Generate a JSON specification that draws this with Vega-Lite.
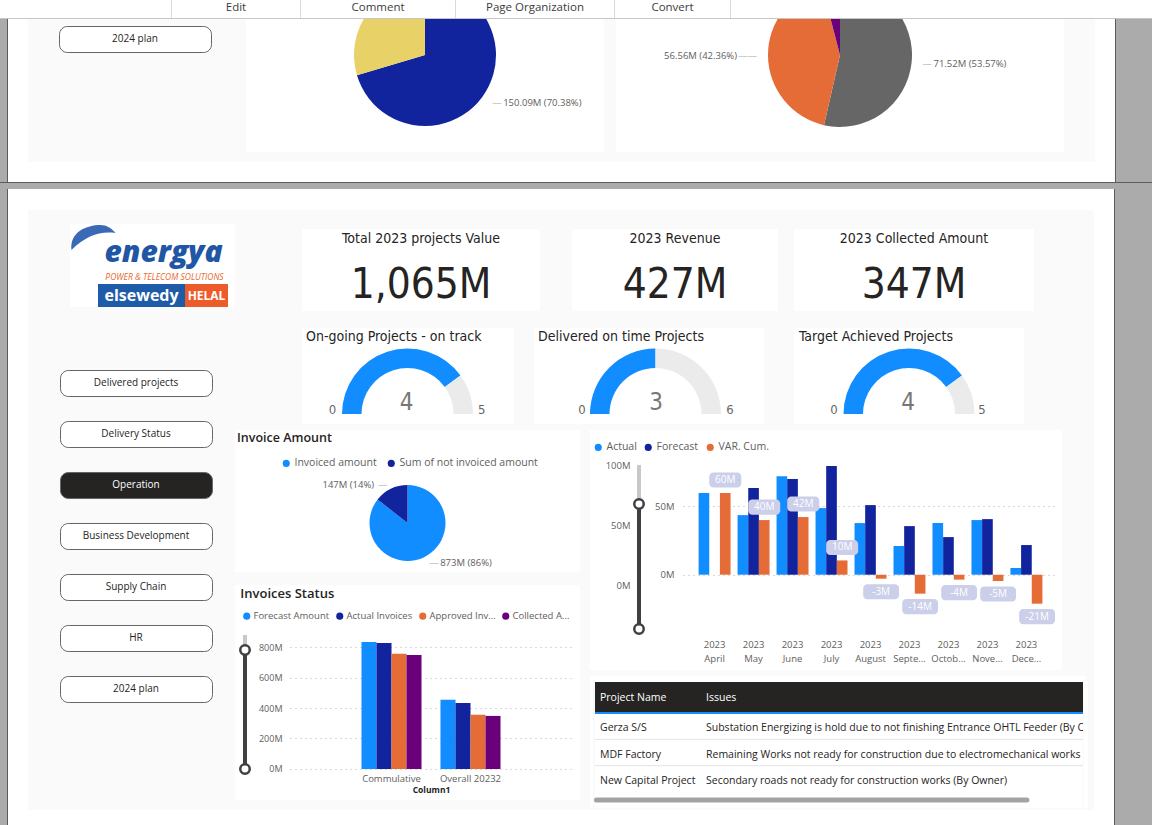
{
"$schema":"https://vega.github.io/schema/vega-lite/v6.json",
"background":"#fafafa",
"padding":0,
"spacing":0,
"resolve":{"scale":{"color":"independent","theta":"independent","x":"independent","y":"independent","xOffset":"independent"}},
"config":{"view":{"stroke":null},"concat":{"spacing":0},"font":"Open Sans","text":{"font":"Open Sans","color":"#252423"},"axis":{"labelFont":"Open Sans","titleFont":"Open Sans"},"legend":{"labelFont":"Open Sans"}},
"datasets":{"monthly":[
{"month":"April","series":"Actual","amount":59.5},
{"month":"April","series":"VAR. Cum.","amount":59.5,"label":"60M"},
{"month":"May","series":"Actual","amount":43.4},
{"month":"May","series":"Forecast","amount":63.1},
{"month":"May","series":"VAR. Cum.","amount":39.8,"label":"40M"},
{"month":"June","series":"Actual","amount":71.8},
{"month":"June","series":"Forecast","amount":69.7},
{"month":"June","series":"VAR. Cum.","amount":42.0,"label":"42M"},
{"month":"July","series":"Actual","amount":48.5},
{"month":"July","series":"Forecast","amount":79.1},
{"month":"July","series":"VAR. Cum.","amount":10.4,"label":"10M"},
{"month":"August","series":"Actual","amount":37.6},
{"month":"August","series":"Forecast","amount":50.7},
{"month":"August","series":"VAR. Cum.","amount":-2.9,"label":"-3M"},
{"month":"September","series":"Actual","amount":20.9},
{"month":"September","series":"Forecast","amount":35.4},
{"month":"September","series":"VAR. Cum.","amount":-13.8,"label":"-14M"},
{"month":"October","series":"Actual","amount":37.6},
{"month":"October","series":"Forecast","amount":27.4},
{"month":"October","series":"VAR. Cum.","amount":-3.6,"label":"-4M"},
{"month":"November","series":"Actual","amount":39.8},
{"month":"November","series":"Forecast","amount":40.5},
{"month":"November","series":"VAR. Cum.","amount":-4.6,"label":"-5M"},
{"month":"December","series":"Actual","amount":4.9},
{"month":"December","series":"Forecast","amount":21.6},
{"month":"December","series":"VAR. Cum.","amount":-21.1,"label":"-21M"}
]},
"vconcat":[
{"spacing":0,"resolve":{"scale":{"color":"independent","theta":"independent","x":"independent","y":"independent","xOffset":"independent"}},"vconcat":[
 {"spacing":0,"bounds":"flush","resolve":{"scale":{"color":"independent","theta":"independent","x":"independent","y":"independent","xOffset":"independent"}},"hconcat":[
  {"width":171,"height":18,"data":{"values":[]},"mark":{"type":"text"},"view":{"fill":"#ffffff"}},
  {"width":1,"height":18,"data":{"values":[]},"mark":{"type":"text"},"view":{"fill":"#dadada"}},
  {"width":128,"height":18,"data":{"values":[{"menu":"Edit"}]},"mark":{"type":"text","fontSize":11.5,"color":"#3c3c3c","dy":-1},"encoding":{"text":{"field":"menu"}},"view":{"fill":"#ffffff"}},
  {"width":1,"height":18,"data":{"values":[]},"mark":{"type":"text"},"view":{"fill":"#dadada"}},
  {"width":154,"height":18,"data":{"values":[{"menu":"Comment"}]},"mark":{"type":"text","fontSize":11.5,"color":"#3c3c3c","dy":-1},"encoding":{"text":{"field":"menu"}},"view":{"fill":"#ffffff"}},
  {"width":1,"height":18,"data":{"values":[]},"mark":{"type":"text"},"view":{"fill":"#dadada"}},
  {"width":158,"height":18,"data":{"values":[{"menu":"Page Organization"}]},"mark":{"type":"text","fontSize":11.5,"color":"#3c3c3c","dy":-1},"encoding":{"text":{"field":"menu"}},"view":{"fill":"#ffffff"}},
  {"width":1,"height":18,"data":{"values":[]},"mark":{"type":"text"},"view":{"fill":"#dadada"}},
  {"width":115,"height":18,"data":{"values":[{"menu":"Convert"}]},"mark":{"type":"text","fontSize":11.5,"color":"#3c3c3c","dy":-1},"encoding":{"text":{"field":"menu"}},"view":{"fill":"#ffffff"}},
  {"width":1,"height":18,"data":{"values":[]},"mark":{"type":"text"},"view":{"fill":"#dadada"}},
  {"width":421,"height":18,"data":{"values":[]},"mark":{"type":"text"},"view":{"fill":"#ffffff"}}
 ]},
 {"width":1152,"height":1,"data":{"values":[]},"mark":{"type":"text"},"view":{"fill":"#c6c6c6"}}
]},
{"spacing":0,"resolve":{"scale":{"color":"independent","theta":"independent","x":"independent","y":"independent","xOffset":"independent"}},"hconcat":[
 {"width":7,"height":163,"data":{"values":[]},"mark":{"type":"text"},"view":{"fill":"#ababab"}},
 {"width":1,"height":163,"data":{"values":[]},"mark":{"type":"text"},"view":{"fill":"#5c5c5c"}},
 {"spacing":0,"resolve":{"scale":{"color":"independent","theta":"independent","x":"independent","y":"independent","xOffset":"independent"}},"vconcat":[
  {"spacing":0,"resolve":{"scale":{"color":"independent","theta":"independent","x":"independent","y":"independent","xOffset":"independent"}},"hconcat":[
   {"width":20,"height":143,"data":{"values":[]},"mark":{"type":"text"},"view":{"fill":"#ffffff"}},
   {"spacing":0,"resolve":{"scale":{"color":"independent","theta":"independent","x":"independent","y":"independent","xOffset":"independent"}},"hconcat":[
    {"spacing":0,"vconcat":[
     {"width":183,"height":6,"data":{"values":[]},"mark":{"type":"text"}},
     {"spacing":0,"bounds":"flush","hconcat":[
      {"width":31,"height":26,"data":{"values":[]},"mark":{"type":"text"}},
      {"width":152,"height":26,"data":{"values":[{"label":"2024 plan"}]},"mark":{"type":"text","fontSize":10,"color":"#252423"},"encoding":{"text":{"field":"label"}},"view":{"fill":"#ffffff","stroke":"#666666","strokeWidth":1,"cornerRadius":8}}
     ]}
    ]},
    {"width":34,"height":143,"data":{"values":[]},"mark":{"type":"text"}},
    {"width":358,"height":133,"view":{"fill":"#ffffff"},
     "data":{"values":[{"category":"Achieved","amount":150.09,"label":"150.09M (70.38%)"},{"category":"Remaining","amount":63.17,"label":"63.17M (29.62%)"}]},
     "encoding":{"theta":{"field":"amount","type":"quantitative","stack":true},"order":{"field":"category","type":"ordinal","sort":"ascending"}},
     "layer":[
      {"mark":{"type":"arc","outerRadius":71,"yOffset":-30.5,"clip":true},"encoding":{"color":{"field":"category","type":"nominal","scale":{"domain":["Achieved","Remaining"],"range":["#12239E","#E8D166"]},"legend":null}}},
      {"mark":{"type":"text","radius":80,"dx":3,"dy":-30.5,"align":"left","fontSize":9.5,"color":"#a8a8a8","clip":true},"encoding":{"detail":{"field":"category","type":"nominal"},"text":{"condition":{"test":"datum.category === 'Achieved'","value":"—"},"value":""}}},
      {"mark":{"type":"text","radius":80,"dx":14,"dy":-30.5,"align":"left","fontSize":9.5,"color":"#605E5C","clip":true},"encoding":{"detail":{"field":"category","type":"nominal"},"text":{"condition":{"test":"datum.category === 'Achieved'","field":"label"},"value":""}}}
     ]},
    {"width":12,"height":143,"data":{"values":[]},"mark":{"type":"text"}},
    {"width":448,"height":133,"view":{"fill":"#ffffff"},
     "data":{"values":[{"category":"Collected","amount":71.52,"label":"71.52M (53.57%)"},{"category":"Outstanding","amount":56.56,"label":"56.56M (42.36%)"},{"category":"Pending","amount":5.43,"label":"5.43M (4.07%)"}]},
     "encoding":{"theta":{"field":"amount","type":"quantitative","stack":true},"order":{"field":"category","type":"ordinal","sort":"ascending"}},
     "layer":[
      {"mark":{"type":"arc","outerRadius":72,"yOffset":-30.5,"clip":true},"encoding":{"color":{"field":"category","type":"nominal","scale":{"domain":["Collected","Outstanding","Pending"],"range":["#666666","#E66C37","#6B007B"]},"legend":null}}},
      {"mark":{"type":"text","radius":80,"dx":3,"dy":-30.5,"align":"left","fontSize":9.5,"color":"#a8a8a8","clip":true},"encoding":{"detail":{"field":"category","type":"nominal"},"text":{"condition":{"test":"datum.category === 'Collected'","value":"—"},"value":""}}},
      {"mark":{"type":"text","radius":80,"dx":-3,"dy":-30.5,"align":"right","fontSize":9.5,"color":"#a8a8a8","clip":true},"encoding":{"detail":{"field":"category","type":"nominal"},"text":{"condition":{"test":"datum.category === 'Outstanding'","value":"——"},"value":""}}},
      {"mark":{"type":"text","radius":80,"dx":14,"dy":-30.5,"align":"left","fontSize":9.5,"color":"#605E5C","clip":true},"encoding":{"detail":{"field":"category","type":"nominal"},"text":{"condition":{"test":"datum.category === 'Collected'","field":"label"},"value":""}}},
      {"mark":{"type":"text","radius":80,"dx":-23,"dy":-30.5,"align":"right","fontSize":9.5,"color":"#605E5C","clip":true},"encoding":{"detail":{"field":"category","type":"nominal"},"text":{"condition":{"test":"datum.category === 'Outstanding'","field":"label"},"value":""}}}
     ]},
    {"width":31,"height":143,"data":{"values":[]},"mark":{"type":"text"}}
   ]},
   {"width":20,"height":143,"data":{"values":[]},"mark":{"type":"text"},"view":{"fill":"#ffffff"}}
  ]},
  {"width":1106,"height":20,"data":{"values":[]},"mark":{"type":"text"},"view":{"fill":"#ffffff"}}
 ]},
 {"width":1,"height":163,"data":{"values":[]},"mark":{"type":"text"},"view":{"fill":"#5c5c5c"}},
 {"width":37,"height":163,"data":{"values":[]},"mark":{"type":"text"},"view":{"fill":"#ababab"}}
]},
{"spacing":0,"vconcat":[
 {"width":1152,"height":1,"data":{"values":[]},"mark":{"type":"text"},"view":{"fill":"#5c5c5c"}},
 {"width":1152,"height":6,"data":{"values":[]},"mark":{"type":"text"},"view":{"fill":"#ababab"}}
]},
{"spacing":0,"resolve":{"scale":{"color":"independent","theta":"independent","x":"independent","y":"independent","xOffset":"independent"}},"hconcat":[
 {"width":7,"height":636,"data":{"values":[]},"mark":{"type":"text"},"view":{"fill":"#ababab"}},
 {"width":1,"height":636,"data":{"values":[]},"mark":{"type":"text"},"view":{"fill":"#5c5c5c"}},
 {"spacing":0,"resolve":{"scale":{"color":"independent","theta":"independent","x":"independent","y":"independent","xOffset":"independent"}},"vconcat":[
  {"width":1106,"height":21,"data":{"values":[]},"mark":{"type":"text"},"view":{"fill":"#ffffff"}},
  {"spacing":0,"resolve":{"scale":{"color":"independent","theta":"independent","x":"independent","y":"independent","xOffset":"independent"}},"hconcat":[
   {"width":20,"height":600,"data":{"values":[]},"mark":{"type":"text"},"view":{"fill":"#ffffff"}},
   {"spacing":0,"resolve":{"scale":{"color":"independent","theta":"independent","x":"independent","y":"independent","xOffset":"independent"}},"hconcat":[
    {"spacing":0,"vconcat":[
     {"width":207,"height":14,"data":{"values":[]},"mark":{"type":"text"}},
     {"spacing":0,"hconcat":[
      {"width":42,"height":83,"data":{"values":[]},"mark":{"type":"text"}},
      {"spacing":0,"vconcat":[
       {"width":165,"height":60,"view":{"fill":"#ffffff"},"data":{"values":[{"brand":"energya","tagline":"POWER & TELECOM SOLUTIONS"}]},"layer":[
        {"mark":{"type":"point","shape":"M -8.1 -0.4 C -8.3 -2.2 -6.6 -2.9 -5.2 -2.9 C -4.6 -2.9 -4.1 -2.6 -3.7 -2.1 C -5.2 -2.3 -6.6 -1.9 -8.1 -0.4 Z","size":400,"filled":true,"color":"#2F62B3","opacity":0.95,"strokeWidth":0}},
        {"mark":{"type":"text","fontSize":30,"fontWeight":800,"fontStyle":"italic","color":"#1F56A5","dx":11,"dy":-1},"encoding":{"text":{"field":"brand"}}},
        {"mark":{"type":"text","fontSize":8.5,"fontStyle":"italic","color":"#E8672E","dx":12,"dy":23},"encoding":{"text":{"field":"tagline"}}}
       ]},
       {"spacing":0,"bounds":"flush","hconcat":[
        {"width":28,"height":23,"data":{"values":[]},"mark":{"type":"text"},"view":{"fill":"#ffffff"}},
        {"width":87,"height":23,"view":{"fill":"#1E5BA8"},"data":{"values":[{"name":"elsewedy"}]},"mark":{"type":"text","fontSize":16,"fontWeight":"bold","color":"#ffffff"},"encoding":{"text":{"field":"name"}}},
        {"width":43,"height":23,"view":{"fill":"#EE5B2B"},"data":{"values":[{"name":"HELAL"}]},"mark":{"type":"text","fontSize":12,"fontWeight":"bold","color":"#ffffff"},"encoding":{"text":{"field":"name"}}},
        {"width":7,"height":23,"data":{"values":[]},"mark":{"type":"text"},"view":{"fill":"#ffffff"}}
       ]}
      ]}
     ]},
     {"width":207,"height":62,"data":{"values":[]},"mark":{"type":"text"}},
     {"spacing":0,"hconcat":[
      {"width":31,"height":332,"data":{"values":[]},"mark":{"type":"text"}},
      {"spacing":25,"bounds":"flush","vconcat":[
       {"width":152,"height":26,"data":{"values":[{"label":"Delivered projects"}]},"mark":{"type":"text","fontSize":10,"color":"#252423"},"encoding":{"text":{"field":"label"}},"view":{"fill":"#ffffff","stroke":"#666666","strokeWidth":1,"cornerRadius":8}},
       {"width":152,"height":26,"data":{"values":[{"label":"Delivery Status"}]},"mark":{"type":"text","fontSize":10,"color":"#252423"},"encoding":{"text":{"field":"label"}},"view":{"fill":"#ffffff","stroke":"#666666","strokeWidth":1,"cornerRadius":8}},
       {"width":152,"height":26,"data":{"values":[{"label":"Operation"}]},"mark":{"type":"text","fontSize":10,"color":"#ffffff"},"encoding":{"text":{"field":"label"}},"view":{"fill":"#252423","stroke":"#666666","strokeWidth":1,"cornerRadius":8}},
       {"width":152,"height":26,"data":{"values":[{"label":"Business Development"}]},"mark":{"type":"text","fontSize":10,"color":"#252423"},"encoding":{"text":{"field":"label"}},"view":{"fill":"#ffffff","stroke":"#666666","strokeWidth":1,"cornerRadius":8}},
       {"width":152,"height":26,"data":{"values":[{"label":"Supply Chain"}]},"mark":{"type":"text","fontSize":10,"color":"#252423"},"encoding":{"text":{"field":"label"}},"view":{"fill":"#ffffff","stroke":"#666666","strokeWidth":1,"cornerRadius":8}},
       {"width":152,"height":26,"data":{"values":[{"label":"HR"}]},"mark":{"type":"text","fontSize":10,"color":"#252423"},"encoding":{"text":{"field":"label"}},"view":{"fill":"#ffffff","stroke":"#666666","strokeWidth":1,"cornerRadius":8}},
       {"width":152,"height":26,"data":{"values":[{"label":"2024 plan"}]},"mark":{"type":"text","fontSize":10,"color":"#252423"},"encoding":{"text":{"field":"label"}},"view":{"fill":"#ffffff","stroke":"#666666","strokeWidth":1,"cornerRadius":8}}
      ]}
     ]}
    ]},
    {"spacing":0,"resolve":{"scale":{"color":"independent","theta":"independent","x":"independent","y":"independent","xOffset":"independent"}},"vconcat":[
     {"width":859,"height":19,"data":{"values":[]},"mark":{"type":"text"}},
     {"spacing":0,"bounds":"flush","hconcat":[
      {"width":67,"height":82,"data":{"values":[]},"mark":{"type":"text"}},
      {"width":238,"height":82,"view":{"fill":"#ffffff"},"data":{"values":[{"metric":"Total 2023 projects Value","display":"1,065M"}]},"layer":[
       {"mark":{"type":"text","font":"DejaVu Sans Condensed, Roboto, sans-serif","fontSize":14,"color":"#252423","dy":-31},"encoding":{"text":{"field":"metric"}}},
       {"mark":{"type":"text","font":"DejaVu Sans Condensed, Roboto, sans-serif","fontSize":42,"color":"#252423","dy":15},"encoding":{"text":{"field":"display"}}}
      ]},
      {"width":32,"height":82,"data":{"values":[]},"mark":{"type":"text"}},
      {"width":206,"height":82,"view":{"fill":"#ffffff"},"data":{"values":[{"metric":"2023 Revenue","display":"427M"}]},"layer":[
       {"mark":{"type":"text","font":"DejaVu Sans Condensed, Roboto, sans-serif","fontSize":14,"color":"#252423","dy":-31},"encoding":{"text":{"field":"metric"}}},
       {"mark":{"type":"text","font":"DejaVu Sans Condensed, Roboto, sans-serif","fontSize":42,"color":"#252423","dy":15},"encoding":{"text":{"field":"display"}}}
      ]},
      {"width":16,"height":82,"data":{"values":[]},"mark":{"type":"text"}},
      {"width":240,"height":82,"view":{"fill":"#ffffff"},"data":{"values":[{"metric":"2023 Collected Amount","display":"347M"}]},"layer":[
       {"mark":{"type":"text","font":"DejaVu Sans Condensed, Roboto, sans-serif","fontSize":14,"color":"#252423","dy":-31},"encoding":{"text":{"field":"metric"}}},
       {"mark":{"type":"text","font":"DejaVu Sans Condensed, Roboto, sans-serif","fontSize":42,"color":"#252423","dy":15},"encoding":{"text":{"field":"display"}}}
      ]}
     ]},
     {"width":859,"height":17,"data":{"values":[]},"mark":{"type":"text"}},
     {"spacing":0,"bounds":"flush","resolve":{"scale":{"color":"independent","theta":"independent"}},"hconcat":[
      {"width":67,"height":96,"data":{"values":[]},"mark":{"type":"text"}},
      {"width":212,"height":96,"view":{"fill":"#ffffff"},"layer":[
       {"data":{"values":[{"part":"Achieved","count":4},{"part":"Remaining","count":1}]},"mark":{"type":"arc","innerRadius":46,"outerRadius":65.5,"yOffset":38,"xOffset":-0.5},"encoding":{"theta":{"field":"count","type":"quantitative","stack":true,"scale":{"domain":[0,5],"range":[-1.5708,1.5708]}},"color":{"field":"part","type":"nominal","scale":{"domain":["Achieved","Remaining"],"range":["#118DFF","#EBEBEB"]},"legend":null}}},
       {"data":{"values":[{"title":"On-going Projects - on track","minimum":0,"value":4,"maximum":5}]},"layer":[
        {"mark":{"type":"text","align":"left","dx":-102,"dy":-39,"font":"DejaVu Sans Condensed, Roboto, sans-serif","fontSize":14,"color":"#252423"},"encoding":{"text":{"field":"title"}}},
        {"mark":{"type":"text","dx":-1.4,"dy":27,"font":"DejaVu Sans Condensed, Roboto, sans-serif","fontSize":24,"color":"#777777"},"encoding":{"text":{"field":"value"}}},
        {"mark":{"type":"text","dx":-75.5,"dy":34,"font":"DejaVu Sans Condensed, Roboto, sans-serif","fontSize":13,"color":"#666666"},"encoding":{"text":{"field":"minimum"}}},
        {"mark":{"type":"text","dx":73.6,"dy":34,"font":"DejaVu Sans Condensed, Roboto, sans-serif","fontSize":13,"color":"#666666"},"encoding":{"text":{"field":"maximum"}}}
       ]}
      ]},
      {"width":20,"height":96,"data":{"values":[]},"mark":{"type":"text"}},
      {"width":230,"height":96,"view":{"fill":"#ffffff"},"layer":[
       {"data":{"values":[{"part":"Achieved","count":3},{"part":"Remaining","count":3}]},"mark":{"type":"arc","innerRadius":46,"outerRadius":65.5,"yOffset":38,"xOffset":6.5},"encoding":{"theta":{"field":"count","type":"quantitative","stack":true,"scale":{"domain":[0,6],"range":[-1.5708,1.5708]}},"color":{"field":"part","type":"nominal","scale":{"domain":["Achieved","Remaining"],"range":["#118DFF","#EBEBEB"]},"legend":null}}},
       {"data":{"values":[{"title":"Delivered on time Projects","minimum":0,"value":3,"maximum":6}]},"layer":[
        {"mark":{"type":"text","align":"left","dx":-111,"dy":-39,"font":"DejaVu Sans Condensed, Roboto, sans-serif","fontSize":14,"color":"#252423"},"encoding":{"text":{"field":"title"}}},
        {"mark":{"type":"text","dx":7,"dy":27,"font":"DejaVu Sans Condensed, Roboto, sans-serif","fontSize":24,"color":"#777777"},"encoding":{"text":{"field":"value"}}},
        {"mark":{"type":"text","dx":-67,"dy":34,"font":"DejaVu Sans Condensed, Roboto, sans-serif","fontSize":13,"color":"#666666"},"encoding":{"text":{"field":"minimum"}}},
        {"mark":{"type":"text","dx":81,"dy":34,"font":"DejaVu Sans Condensed, Roboto, sans-serif","fontSize":13,"color":"#666666"},"encoding":{"text":{"field":"maximum"}}}
       ]}
      ]},
      {"width":30,"height":96,"data":{"values":[]},"mark":{"type":"text"}},
      {"width":230,"height":96,"view":{"fill":"#ffffff"},"layer":[
       {"data":{"values":[{"part":"Achieved","count":4},{"part":"Remaining","count":1}]},"mark":{"type":"arc","innerRadius":46,"outerRadius":65.5,"yOffset":38,"xOffset":0},"encoding":{"theta":{"field":"count","type":"quantitative","stack":true,"scale":{"domain":[0,5],"range":[-1.5708,1.5708]}},"color":{"field":"part","type":"nominal","scale":{"domain":["Achieved","Remaining"],"range":["#118DFF","#EBEBEB"]},"legend":null}}},
       {"data":{"values":[{"title":"Target Achieved Projects","minimum":0,"value":4,"maximum":5}]},"layer":[
        {"mark":{"type":"text","align":"left","dx":-110,"dy":-39,"font":"DejaVu Sans Condensed, Roboto, sans-serif","fontSize":14,"color":"#252423"},"encoding":{"text":{"field":"title"}}},
        {"mark":{"type":"text","dx":-1,"dy":27,"font":"DejaVu Sans Condensed, Roboto, sans-serif","fontSize":24,"color":"#777777"},"encoding":{"text":{"field":"value"}}},
        {"mark":{"type":"text","dx":-75,"dy":34,"font":"DejaVu Sans Condensed, Roboto, sans-serif","fontSize":13,"color":"#666666"},"encoding":{"text":{"field":"minimum"}}},
        {"mark":{"type":"text","dx":73,"dy":34,"font":"DejaVu Sans Condensed, Roboto, sans-serif","fontSize":13,"color":"#666666"},"encoding":{"text":{"field":"maximum"}}}
       ]}
      ]}
     ]},
     {"width":859,"height":6,"data":{"values":[]},"mark":{"type":"text"}},
     {"spacing":0,"resolve":{"scale":{"color":"independent","theta":"independent","x":"independent","y":"independent","xOffset":"independent"}},"hconcat":[
      {"spacing":13,"resolve":{"scale":{"color":"independent","theta":"independent","x":"independent","y":"independent","xOffset":"independent"}},"vconcat":[
       {"width":345,"height":142,"view":{"fill":"#ffffff"},"layer":[
        {"data":{"values":[{"panel":"Invoice Amount"}]},"mark":{"type":"text","align":"left","dx":-170.5,"dy":-63,"fontSize":12.5,"fontWeight":600,"color":"#252423"},"encoding":{"text":{"field":"panel"}}},
        {"data":{"values":[{"category":"Invoiced amount","amount":873,"label":"873M (86%)"},{"category":"Sum of not invoiced amount","amount":147,"label":"147M (14%)"}]},
         "encoding":{"theta":{"field":"amount","type":"quantitative","stack":true},"order":{"field":"category","type":"ordinal","sort":"ascending"}},
         "layer":[
          {"mark":{"type":"arc","outerRadius":38,"yOffset":22},"encoding":{"color":{"field":"category","type":"nominal","scale":{"domain":["Invoiced amount","Sum of not invoiced amount"],"range":["#118DFF","#12239E"]},"legend":{"orient":"none","legendX":46,"legendY":28,"direction":"horizontal","title":null,"symbolType":"circle","symbolSize":50,"symbolStrokeWidth":0,"labelFontSize":10.5,"labelColor":"#605E5C","columnPadding":9,"labelOffset":3,"padding":0}}}},
          {"mark":{"type":"text","radius":45,"dx":2,"dy":22,"align":"left","fontSize":9.5,"color":"#a8a8a8"},"encoding":{"detail":{"field":"category","type":"nominal"},"text":{"condition":{"test":"datum.category === 'Invoiced amount'","value":"—"},"value":""}}},
          {"mark":{"type":"text","radius":42,"dx":-2,"dy":22,"align":"right","fontSize":9.5,"color":"#a8a8a8"},"encoding":{"detail":{"field":"category","type":"nominal"},"text":{"condition":{"test":"datum.category !== 'Invoiced amount'","value":"—"},"value":""}}},
          {"mark":{"type":"text","radius":45,"dx":13,"dy":22,"align":"left","fontSize":9.5,"color":"#605E5C"},"encoding":{"detail":{"field":"category","type":"nominal"},"text":{"condition":{"test":"datum.category === 'Invoiced amount'","field":"label"},"value":""}}},
          {"mark":{"type":"text","radius":42,"dx":-15,"dy":22,"align":"right","fontSize":9.5,"color":"#605E5C"},"encoding":{"detail":{"field":"category","type":"nominal"},"text":{"condition":{"test":"datum.category !== 'Invoiced amount'","field":"label"},"value":""}}}
         ]}
       ]},
       {"spacing":0,"bounds":"flush","resolve":{"scale":{"color":"independent","x":"independent","y":"independent","xOffset":"independent"}},"hconcat":[
        {"width":2,"height":215,"data":{"values":[]},"mark":{"type":"text"},"view":{"fill":"#ffffff"}},
        {"width":16,"height":215,"view":{"fill":"#ffffff"},"layer":[
         {"data":{"values":[{"segment":"outside","from":780,"to":879},{"segment":"selected","from":0,"to":780}]},"mark":{"type":"rule","strokeWidth":4},"encoding":{"y":{"field":"from","type":"quantitative","scale":{"domain":[-203.3,1206.6],"nice":false},"axis":null},"y2":{"field":"to"},"color":{"field":"segment","type":"nominal","scale":{"domain":["outside","selected"],"range":["#c8c8c8","#404040"]},"legend":null}}},
         {"data":{"values":[{"handle":"low","value":0},{"handle":"high","value":780}]},"mark":{"type":"point","filled":true,"fill":"#ffffff","stroke":"#404040","strokeWidth":2.5,"size":90,"opacity":1},"encoding":{"y":{"field":"value","type":"quantitative","axis":null}}}
        ]},
        {"width":37,"height":215,"data":{"values":[]},"mark":{"type":"text"},"view":{"fill":"#ffffff"}},
        {"width":282,"height":215,"view":{"fill":"#ffffff"},"layer":[
         {"data":{"values":[{"panel":"Invoices Status"}]},"mark":{"type":"text","align":"left","dx":-190.7,"dy":-98.5,"fontSize":13,"fontWeight":600,"color":"#252423"},"encoding":{"text":{"field":"panel"}}},
         {"data":{"values":[
           {"group":"Commulative","series":"Forecast Amount","amount":833},
           {"group":"Commulative","series":"Actual Invoices","amount":826},
           {"group":"Commulative","series":"Approved Invoices","amount":756},
           {"group":"Commulative","series":"Collected Amount","amount":748},
           {"group":"Overall 20232","series":"Forecast Amount","amount":454},
           {"group":"Overall 20232","series":"Actual Invoices","amount":433},
           {"group":"Overall 20232","series":"Approved Invoices","amount":356},
           {"group":"Overall 20232","series":"Collected Amount","amount":348}
          ]},
          "mark":{"type":"bar"},
          "encoding":{
           "x":{"field":"group","type":"nominal","sort":["Commulative","Overall 20232"],"scale":{"paddingInner":0.24,"paddingOuter":0.905,"align":0.5},"axis":{"title":"Column1","offset":-31,"domain":false,"ticks":false,"labelAngle":0,"labelPadding":4,"labelFontSize":9.5,"labelColor":"#605E5C","titleFontSize":8.5,"titleFontWeight":"bold","titleColor":"#252423","titlePadding":3}},
           "xOffset":{"field":"series","type":"nominal","sort":["Forecast Amount","Actual Invoices","Approved Invoices","Collected Amount"],"scale":{"paddingInner":0}},
           "y":{"field":"amount","type":"quantitative","stack":null,"scale":{"domain":[-203.3,1206.6],"nice":false},"axis":{"title":null,"values":[0,200,400,600,800],"labelExpr":"datum.value + 'M'","domain":false,"ticks":false,"labelPadding":8,"labelFontSize":9,"labelColor":"#605E5C","grid":true,"gridDash":[1,4],"gridColor":"#b3b3b3"}},
           "y2":{"datum":0},
           "color":{"field":"series","type":"nominal","scale":{"domain":["Forecast Amount","Actual Invoices","Approved Invoices","Collected Amount"],"range":["#118DFF","#12239E","#E66C37","#6B007B"]},"legend":{"orient":"none","legendX":-48,"legendY":26,"direction":"horizontal","title":null,"symbolType":"circle","symbolSize":50,"symbolStrokeWidth":0,"labelFontSize":9.5,"labelColor":"#605E5C","columnPadding":5,"labelOffset":2,"padding":0,"labelExpr":"datum.label == 'Approved Invoices' ? 'Approved Inv...' : datum.label == 'Collected Amount' ? 'Collected A...' : datum.label"}}
          }}
        ]},
        {"width":8,"height":215,"data":{"values":[]},"mark":{"type":"text"},"view":{"fill":"#ffffff"}}
       ]}
      ]},
      {"width":10,"height":370,"data":{"values":[]},"mark":{"type":"text"}},
      {"spacing":0,"resolve":{"scale":{"color":"independent","x":"independent","y":"independent","xOffset":"independent"}},"vconcat":[
       {"spacing":0,"resolve":{"scale":{"color":"independent","x":"independent","y":"independent","xOffset":"independent"}},"hconcat":[
        {"spacing":0,"bounds":"flush","resolve":{"scale":{"color":"independent","x":"independent","y":"independent","xOffset":"independent"}},"hconcat":[
         {"width":41,"height":240,"data":{"values":[]},"mark":{"type":"text"},"view":{"fill":"#ffffff"}},
         {"width":16,"height":240,"view":{"fill":"#ffffff"},"layer":[
          {"data":{"values":[{"segment":"outside","from":51.5,"to":79.9},{"segment":"selected","from":-39.5,"to":51.5}]},"mark":{"type":"rule","strokeWidth":4},"encoding":{"y":{"field":"from","type":"quantitative","scale":{"domain":[-69.4,105.4],"nice":false},"axis":null},"y2":{"field":"to"},"color":{"field":"segment","type":"nominal","scale":{"domain":["outside","selected"],"range":["#c8c8c8","#404040"]},"legend":null}}},
          {"data":{"values":[{"handle":"low","value":-39.5},{"handle":"high","value":51.5}]},"mark":{"type":"point","filled":true,"fill":"#ffffff","stroke":"#404040","strokeWidth":2.5,"size":90,"opacity":1},"encoding":{"y":{"field":"value","type":"quantitative","axis":null}}}
         ]},
         {"width":36,"height":240,"data":{"values":[]},"mark":{"type":"text"},"view":{"fill":"#ffffff"}},
         {"width":375,"height":240,"view":{"fill":"#ffffff"},"data":{"name":"monthly"},
          "resolve":{"scale":{"y":"independent"},"axis":{"y":"independent"}},
          "layer":[
           {"encoding":{
             "x":{"field":"month","type":"nominal","sort":["April","May","June","July","August","September","October","November","December"],"scale":{"paddingInner":0.18,"paddingOuter":0.4},"axis":{"title":null,"offset":-33,"domain":false,"ticks":false,"labelAngle":0,"labelPadding":2,"labelFontSize":9.5,"labelColor":"#605E5C","labelLineHeight":14,"labelExpr":"['2023', datum.value == 'September' ? 'Septe...' : datum.value == 'October' ? 'Octob...' : datum.value == 'November' ? 'Nove...' : datum.value == 'December' ? 'Dece...' : datum.value]"}},
             "xOffset":{"field":"series","type":"nominal","scale":{"domain":["Actual","Forecast","VAR. Cum."],"paddingInner":0}},
             "y":{"field":"amount","type":"quantitative","stack":null,"scale":{"domain":[-69.4,105.4],"nice":false},"axis":{"title":null,"values":[0,50],"labelExpr":"datum.value + 'M'","domain":false,"ticks":false,"labelPadding":9,"labelFontSize":9.5,"labelColor":"#605E5C","grid":true,"gridDash":[1,4],"gridColor":"#b3b3b3"}}
            },
            "layer":[
             {"mark":{"type":"bar"},"encoding":{"y2":{"datum":0},"color":{"field":"series","type":"nominal","scale":{"domain":["Actual","Forecast","VAR. Cum."],"range":["#118DFF","#12239E","#E66C37"]},"legend":{"orient":"none","legendX":-90,"legendY":12,"direction":"horizontal","title":null,"symbolType":"circle","symbolSize":50,"symbolStrokeWidth":0,"labelFontSize":10.5,"labelColor":"#605E5C","columnPadding":6,"labelOffset":3,"padding":0}}}},
             {"transform":[{"filter":"datum.series === 'VAR. Cum.' && datum.amount >= 0"}],"mark":{"type":"point","shape":"M -0.75 -1.28 L 0.75 -1.28 A 0.25 0.25 0 0 1 1 -1.03 L 1 -0.59 A 0.25 0.25 0 0 1 0.75 -0.34 L -0.75 -0.34 A 0.25 0.25 0 0 1 -1 -0.59 L -1 -1.03 A 0.25 0.25 0 0 1 -0.75 -1.28 Z","size":1024,"filled":true,"color":"#CBCFEA","opacity":1,"strokeWidth":0}},
             {"transform":[{"filter":"datum.series === 'VAR. Cum.' && datum.amount < 0"}],"mark":{"type":"point","shape":"M -0.87 0.34 L 0.87 0.34 A 0.25 0.25 0 0 1 1.12 0.59 L 1.12 1.03 A 0.25 0.25 0 0 1 0.87 1.28 L -0.87 1.28 A 0.25 0.25 0 0 1 -1.12 1.03 L -1.12 0.59 A 0.25 0.25 0 0 1 -0.87 0.34 Z","size":1024,"filled":true,"color":"#CBCFEA","opacity":1,"strokeWidth":0}},
             {"transform":[{"filter":"datum.series === 'VAR. Cum.' && datum.amount >= 0"}],"mark":{"type":"text","dy":-13,"fontSize":10,"color":"#ffffff"},"encoding":{"text":{"field":"label"}}},
             {"transform":[{"filter":"datum.series === 'VAR. Cum.' && datum.amount < 0"}],"mark":{"type":"text","dy":13,"fontSize":10,"color":"#ffffff"},"encoding":{"text":{"field":"label"}}}
            ]},
           {"mark":{"type":"point","opacity":0},"encoding":{"y":{"field":"amount","type":"quantitative","scale":{"domain":[-70.8,129.2],"nice":false},"axis":{"orient":"left","offset":44,"title":null,"values":[0,50,100],"labelExpr":"datum.value + 'M'","domain":false,"ticks":false,"grid":false,"labelPadding":9,"labelFontSize":9.5,"labelColor":"#605E5C"}}}}
          ]},
         {"width":4,"height":240,"data":{"values":[]},"mark":{"type":"text"},"view":{"fill":"#ffffff"}}
        ]},
        {"width":23,"height":240,"data":{"values":[]},"mark":{"type":"text"}}
       ]},
       {"width":495,"height":6,"data":{"values":[]},"mark":{"type":"text"}},
       {"spacing":0,"resolve":{"scale":{"color":"independent","x":"independent","y":"independent","strokeWidth":"independent"}},"vconcat":[
        {"width":495,"height":6,"data":{"values":[]},"mark":{"type":"text"},"view":{"fill":"#ffffff"}},
        {"spacing":0,"resolve":{"scale":{"color":"independent","x":"independent","y":"independent","strokeWidth":"independent"}},"hconcat":[
         {"width":3,"height":126,"data":{"values":[]},"mark":{"type":"text"},"view":{"fill":"#ffffff"}},
         {"spacing":0,"bounds":"flush","resolve":{"scale":{"color":"independent","x":"independent","y":"independent","strokeWidth":"independent"}},"vconcat":[
          {"width":488,"height":31,"view":{"fill":"#252423"},"data":{"values":[{"column":"Project Name"},{"column":"Issues"}]},"mark":{"type":"text","align":"left","fontSize":10.5,"color":"#ffffff"},"encoding":{"x":{"field":"column","type":"nominal","scale":{"type":"point","domain":["Project Name","Issues"],"range":[5,111],"padding":0},"axis":null},"text":{"field":"column"}}},
          {"width":488,"height":79,"view":{"fill":"#ffffff"},"data":{"values":[
            {"Project Name":"Gerza S/S","Issues":"Substation Energizing is hold due to not finishing Entrance OHTL Feeder (By Client)"},
            {"Project Name":"MDF Factory","Issues":"Remaining Works not ready for construction due to electromechanical works"},
            {"Project Name":"New Capital Project","Issues":"Secondary roads not ready for construction works (By Owner)"}
           ]},
           "layer":[
            {"mark":{"type":"rule"},"encoding":{"y":{"field":"Project Name","type":"nominal","sort":null,"bandPosition":0,"scale":{"type":"band","paddingInner":0,"paddingOuter":0},"axis":null},"color":{"condition":{"test":"datum['Project Name'] === 'Gerza S/S'","value":"#118DFF"},"value":"#e3e3e3"},"strokeWidth":{"condition":{"test":"datum['Project Name'] === 'Gerza S/S'","value":2},"value":1}}},
            {"transform":[{"fold":["Project Name","Issues"],"as":["column","cell"]}],"mark":{"type":"text","align":"left","fontSize":10.5,"color":"#252423","clip":true,"dy":2},"encoding":{"x":{"field":"column","type":"nominal","scale":{"type":"point","domain":["Project Name","Issues"],"range":[5,111],"padding":0},"axis":null},"y":{"field":"Project Name","type":"nominal","sort":null,"axis":null},"text":{"field":"cell"}}}
           ]},
          {"width":488,"height":16,"view":{"fill":"#ffffff"},"data":{"values":[{"start":0.003,"end":0.885}]},"mark":{"type":"rule","strokeWidth":5,"strokeCap":"round","color":"#a3a3a3"},"encoding":{"x":{"field":"start","type":"quantitative","scale":{"domain":[0,1],"nice":false},"axis":null},"x2":{"field":"end"}}}
         ]},
         {"width":4,"height":126,"data":{"values":[]},"mark":{"type":"text"},"view":{"fill":"#ffffff"}}
        ]}
       ]}
      ]}
     ]}
    ]}
   ]},
   {"width":20,"height":600,"data":{"values":[]},"mark":{"type":"text"},"view":{"fill":"#ffffff"}}
  ]},
  {"width":1106,"height":15,"data":{"values":[]},"mark":{"type":"text"},"view":{"fill":"#ffffff"}}
 ]},
 {"width":1,"height":636,"data":{"values":[]},"mark":{"type":"text"},"view":{"fill":"#5c5c5c"}},
 {"width":37,"height":636,"data":{"values":[]},"mark":{"type":"text"},"view":{"fill":"#ababab"}}
]}
]
}
